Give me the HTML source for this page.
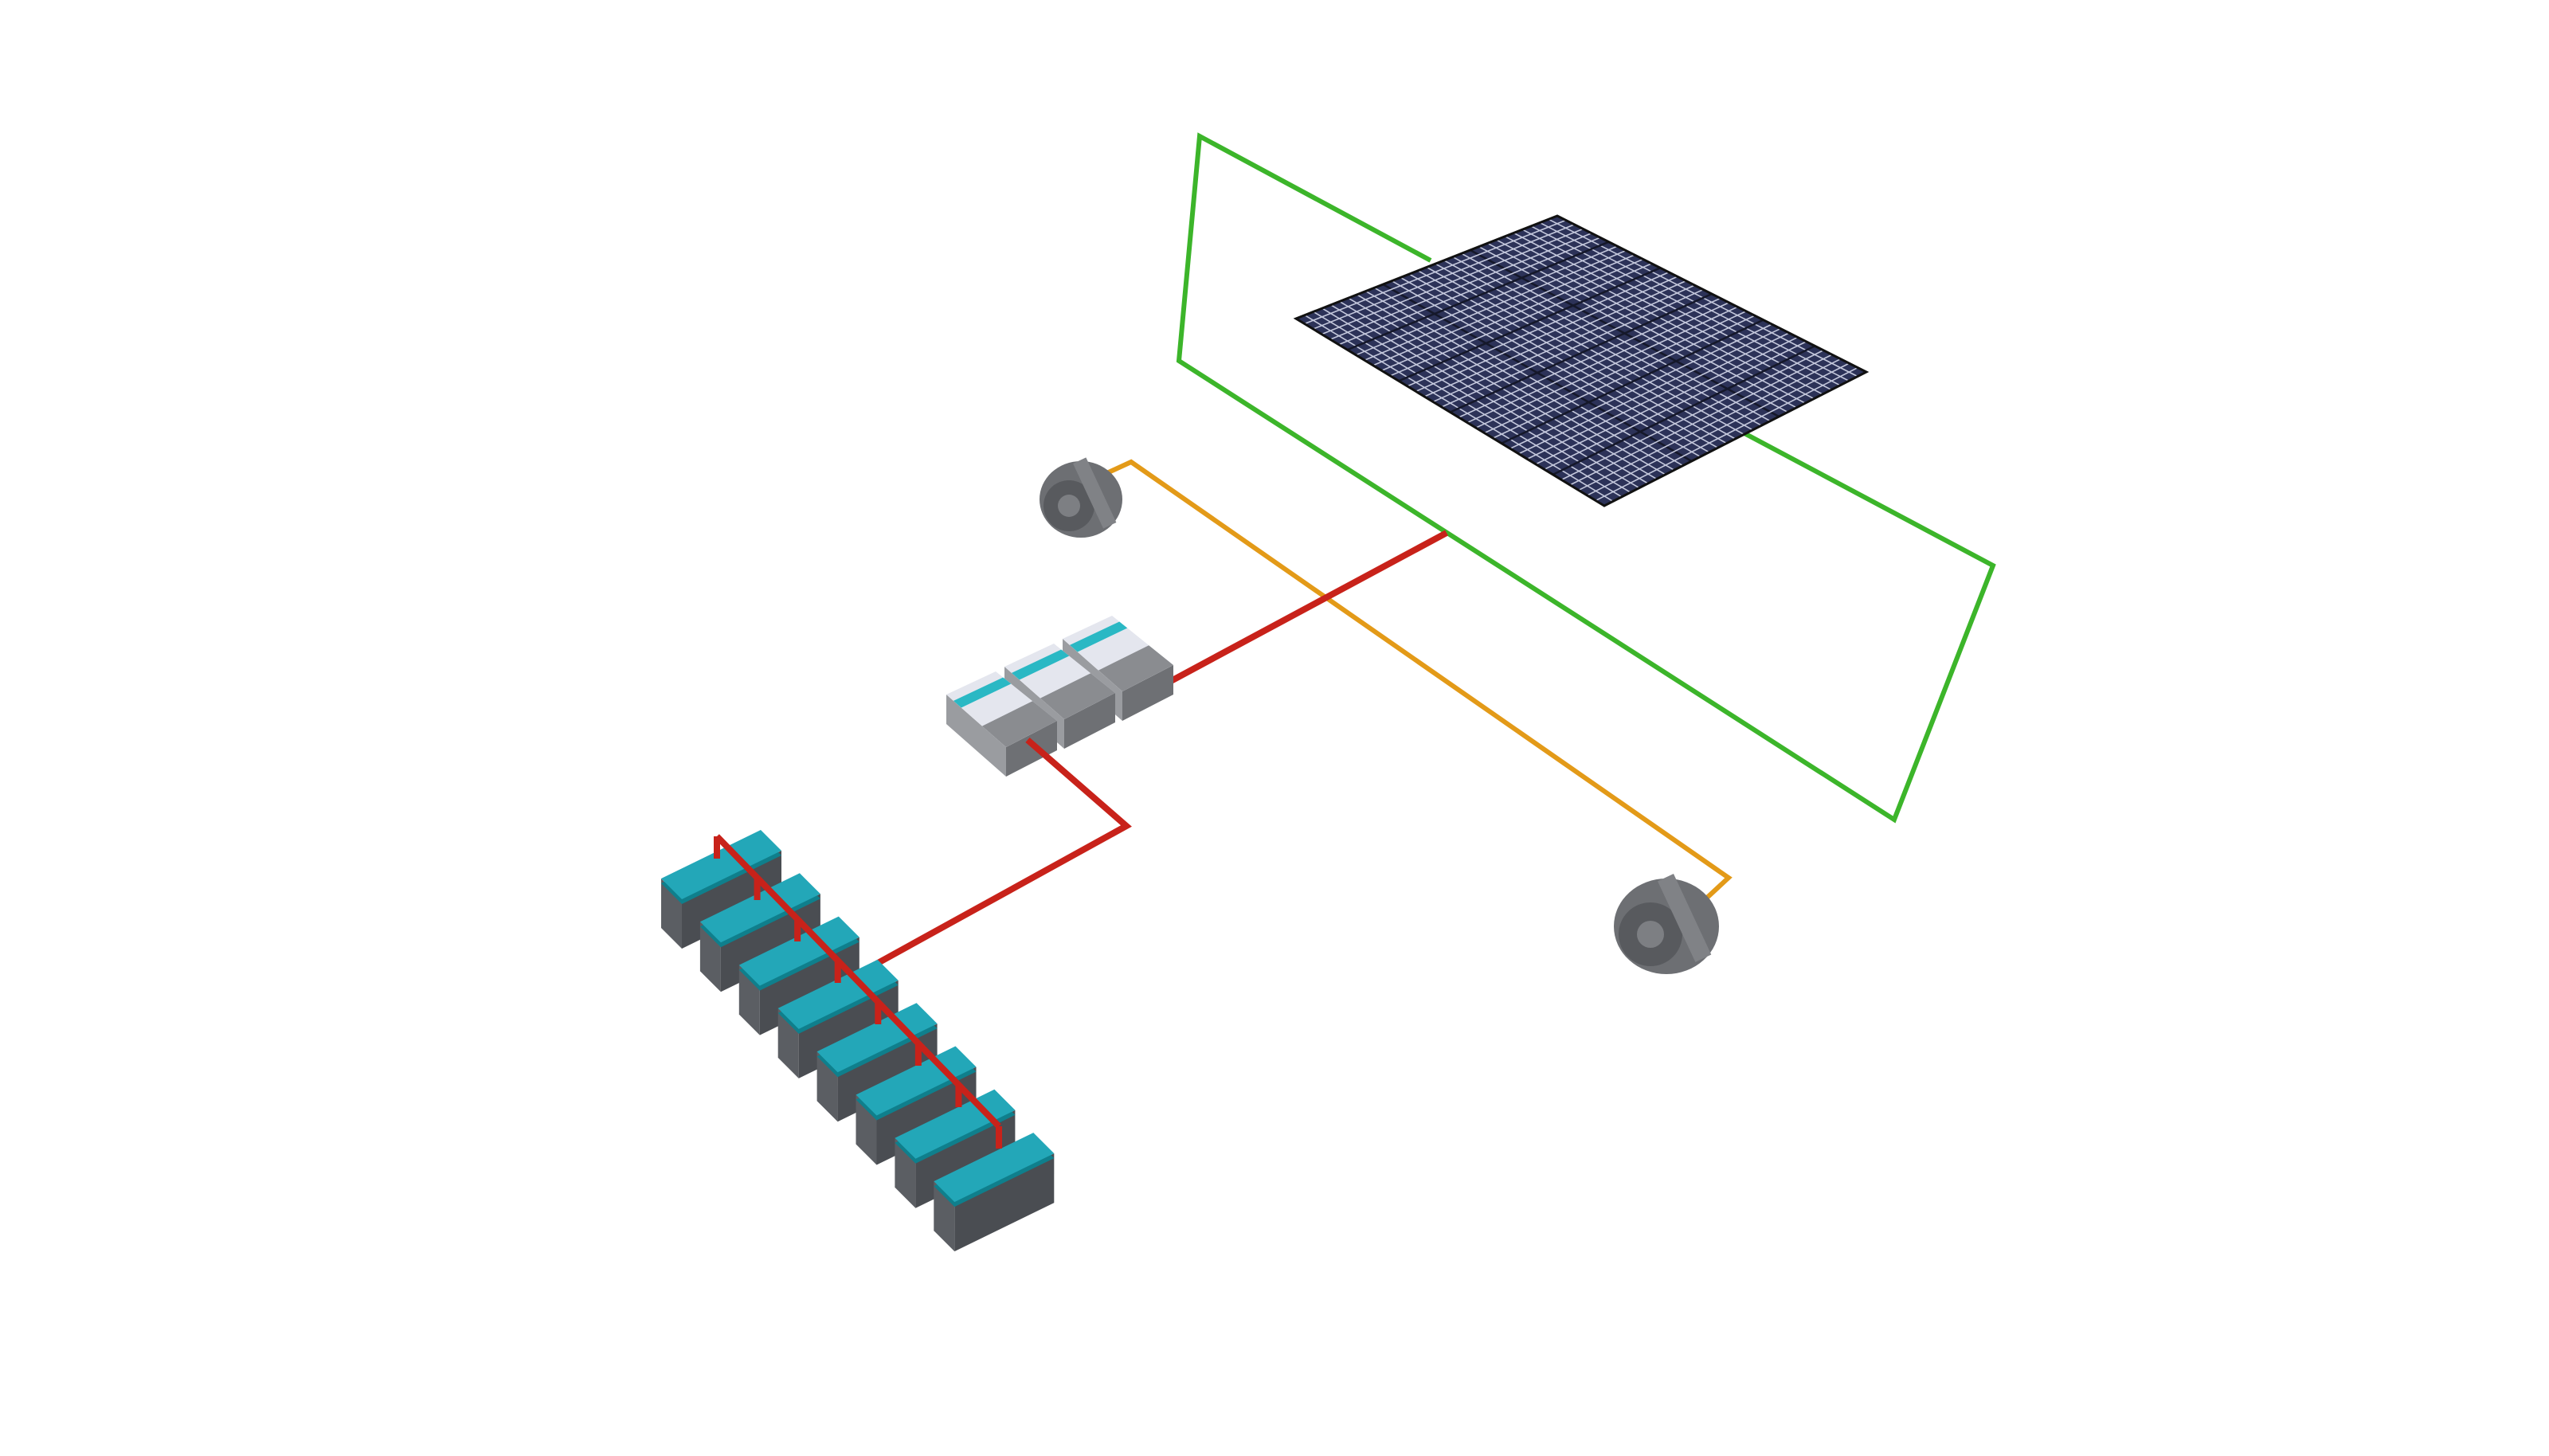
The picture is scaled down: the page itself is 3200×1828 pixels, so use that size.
<!DOCTYPE html>
<html><head><meta charset="utf-8"><style>html,body{margin:0;padding:0;background:#fff;}svg{display:block}</style></head>
<body>
<svg id="s" width="3200" height="1828" viewBox="0 0 3200 1828" xmlns="http://www.w3.org/2000/svg">
<rect width="3200" height="1828" fill="#fff"/>
<polyline points="1796,327 1506,171 1480,453 2378,1029 2502,710 2188,543" fill="none" stroke="#3cb52a" stroke-width="6" stroke-linejoin="miter"/>
<polygon points="1627,400 1955,271 2343,467 2014,635" fill="#2c3258"/>
<g id="grid"></g>
<polygon points="1627,400 1955,271 2343,467 2014,635" fill="none" stroke="#111" stroke-width="3"/>
<polyline points="1383,597 1420,580 2170,1102 2143,1127" fill="none" stroke="#e39a18" stroke-width="6"/>
<polyline points="1816,669 1470,855 1300,933" fill="none" stroke="#c8221a" stroke-width="8"/>
<g transform="translate(1357,627)">
<ellipse cx="0" cy="0" rx="52" ry="48" fill="#6d6f73"/>
<ellipse cx="-15" cy="8" rx="32" ry="32" fill="#585a5e"/>
<ellipse cx="-15" cy="8" rx="14" ry="14" fill="#7d7f83"/>
<rect x="10" y="-45" width="18" height="90" fill="#808286" transform="rotate(-25)"/>
</g>
<g transform="translate(2092,1163)">
<ellipse cx="0" cy="0" rx="66" ry="60" fill="#6d6f73"/>
<ellipse cx="-20" cy="10" rx="40" ry="40" fill="#585a5e"/>
<ellipse cx="-20" cy="10" rx="17" ry="17" fill="#7d7f83"/>
<rect x="14" y="-56" width="22" height="112" fill="#808286" transform="rotate(-25)"/>
</g>
<g id="chg"></g>
<polyline points="1290,929 1414,1037 1075,1224" fill="none" stroke="#c8221a" stroke-width="8"/>
<g id="bat"></g>
<polyline points="900,1050 1254,1414" fill="none" stroke="#c8221a" stroke-width="8"/>
<g id="drops" stroke="#c8221a" stroke-width="8"></g>
</svg>
<script>
var NS="http://www.w3.org/2000/svg";
function el(p,t,a){var e=document.createElementNS(NS,t);for(var k in a)e.setAttribute(k,a[k]);p.appendChild(e);return e;}
var P0=[1627,400],P1=[1955,271],P2=[2343,467],P3=[2014,635];
function bl(u,v){var a=[P0[0]+(P1[0]-P0[0])*u,P0[1]+(P1[1]-P0[1])*u],b=[P3[0]+(P2[0]-P3[0])*u,P3[1]+(P2[1]-P3[1])*u];return [a[0]+(b[0]-a[0])*v,a[1]+(b[1]-a[1])*v];}
var g=document.getElementById('grid');
var NU=30,NV=36;
for(var i=1;i<NU;i++){var u=i/NU,a=bl(u,0),b=bl(u,1);var m=(i%10==0);el(g,'line',{x1:a[0],y1:a[1],x2:b[0],y2:b[1],'stroke-width':(m?2.5:1.6),stroke:(m?'#15182a':'#c4c8dc')});}
for(var j=1;j<NV;j++){var v=j/NV,a=bl(0,v),b=bl(1,v);var m=(j%6==0);el(g,'line',{x1:a[0],y1:a[1],x2:b[0],y2:b[1],'stroke-width':(m?2.5:1.6),stroke:(m?'#15182a':'#c4c8dc')});}
var c=document.getElementById('chg');
for(var k=2;k>=0;k--){var dx=73*k,dy=-35*k;
 var A=[1188+dx,872+dy],B=[1250+dx,843+dy],C=[1327+dx,905+dy],D=[1263+dx,938+dy],h=37;
 function pt(p,o){return (p[0])+','+(p[1]+(o||0));}
 el(c,'polygon',{points:[pt(A),pt(D),pt(D,h),pt(A,h)].join(' '),fill:'#9a9ca0'});
 el(c,'polygon',{points:[pt(D),pt(C),pt(C,h),pt(D,h)].join(' '),fill:'#6e7074'});
 el(c,'polygon',{points:[pt(A),pt(B),pt(C),pt(D)].join(' '),fill:'#e4e6ee'});
 var t=0.6;function L(p,q){return [p[0]+(q[0]-p[0])*t,p[1]+(q[1]-p[1])*t];}
 var E=L(A,D),F=L(B,C);
 el(c,'polygon',{points:[pt(E),pt(F),pt(C),pt(D)].join(' '),fill:'#8a8c90'});
 t=0.12;var G=L(A,D),H=L(B,C);t=0.25;var I=L(A,D),J=L(B,C);
 el(c,'polygon',{points:[pt(G),pt(H),pt(J),pt(I)].join(' '),fill:'#2ab8c4'});
}
var bt=document.getElementById('bat'),dr=document.getElementById('drops');
for(var n=0;n<8;n++){var ox=48.9*n,oy=54.3*n;
 var A=[830+ox,1103+oy],B=[955+ox,1042+oy],C=[981+ox,1068+oy],D=[856+ox,1129+oy],h=62;
 function p(q,o){return q[0]+','+(q[1]+(o||0));}
 el(bt,'polygon',{points:[p(A),p(D),p(D,h),p(A,h)].join(' '),fill:'#5b5e63'});
 el(bt,'polygon',{points:[p(D),p(C),p(C,h),p(D,h)].join(' '),fill:'#4a4d52'});
 el(bt,'polygon',{points:[p(A,6),p(D,6),p(C,6),p(B,6)].join(' '),fill:'#0f7f8c'});
 el(bt,'polygon',{points:[p(A),p(B),p(C),p(D)].join(' '),fill:'#23a7b8'});
 var bx=900+(354/7)*n, by=1050+(364/7)*n;
 el(dr,'line',{x1:bx,y1:by,x2:bx,y2:by+28});
}
</script>
</body></html>
